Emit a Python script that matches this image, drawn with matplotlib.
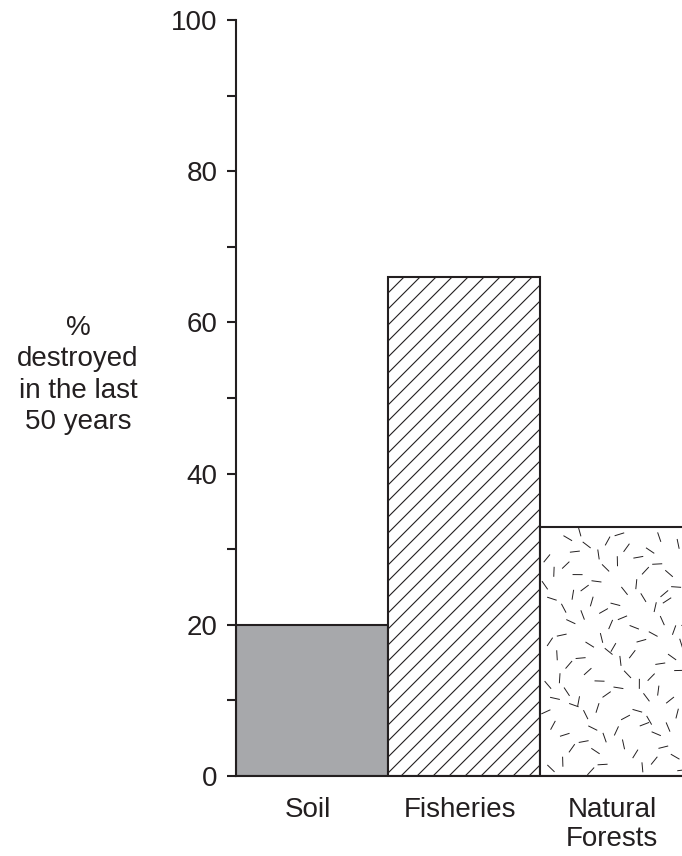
import numpy as np
import matplotlib
matplotlib.use("Agg")
import matplotlib.pyplot as plt
from matplotlib.collections import LineCollection

# data
categories = ["Soil", "Fisheries", "Natural\nForests"]
values = [20, 66, 33]
yticks = [0, 20, 40, 60, 80, 100]

INK = "#231f20"
plt.rcParams['font.family'] = ['Liberation Sans', 'DejaVu Sans']

fig = plt.figure(figsize=(6.82, 8.56), dpi=100)
ax = fig.add_axes([236/682, 80/856, 446/682, 756/856])

x = np.arange(len(categories))
fills = ["#a7a8ab", "white", "white"]
bars = ax.bar(x, values, width=1.0, color=fills, edgecolor=INK,
              linewidth=1.5, zorder=2)

ax.set_xlim(-0.5, 2.434)
ax.set_ylim(0, 100)

px_x = 1 / 152.0      # data units per pixel, x
px_y = 1 / 7.56       # data units per pixel, y

# diagonal hatching on the fisheries bar, drawn by hand for finer spacing
fb = bars[1]
x0, w, h = fb.get_x(), fb.get_width(), fb.get_height()
wp, hp = w / px_x, h / px_y
hatch = []
step = 16.0
for off in np.arange(-hp, wp + step, step):
    hatch.append([(x0 + off * px_x, 0), (x0 + (off + hp) * px_x, h)])
lc = LineCollection(hatch, colors=INK, linewidths=0.8, zorder=3)
ax.add_collection(lc)
lc.set_clip_path(fb)

# speckled texture for the forests bar (decoration only, deterministic)
g = 0.6180339887
segs = []
step = 18
k = 0
for row in range(int(33 / px_y / step) + 1):
    for col in range(int(152 / step) + 1):
        k += 1
        jx = ((k * g) % 1.0 - 0.5) * step * 0.9
        jy = ((k * g * g * 3.7) % 1.0 - 0.5) * step * 0.9
        cx = 1.5 + (col * step + step / 2 + jx) * px_x
        cy = (row * step + step / 2 + jy) * px_y
        ang = ((k * 0.7548776662) % 1.0) * np.pi
        half = 5.0
        dx = np.cos(ang) * half * px_x
        dy = np.sin(ang) * half * px_y
        if 1.5 + 4 * px_x < cx < 2.5 and 4 * px_y < cy < 33 - 4 * px_y:
            segs.append([(cx - dx, cy - dy), (cx + dx, cy + dy)])
ax.add_collection(LineCollection(segs, colors=INK, linewidths=0.7, zorder=3))

for side in ["top", "right"]:
    ax.spines[side].set_visible(False)
for side in ["left", "bottom"]:
    ax.spines[side].set_linewidth(1.5)
    ax.spines[side].set_color(INK)
    ax.spines[side].set_zorder(4)

ax.set_yticks(yticks)
ax.set_yticks(np.arange(10, 100, 20), minor=True)
ax.tick_params(axis="y", which="both", direction="out", length=6.5, width=1.5,
               colors=INK, labelsize=20, pad=7)
ax.set_xticks(x - 4 * px_x)
ax.set_xticklabels(categories, fontsize=20, color=INK, linespacing=1.15,
                   va="top")
ax.tick_params(axis="x", length=0, pad=15)

fig.text(78/682, 1 - 375/856, "%\ndestroyed\nin the last\n50 years",
         ha="center", va="center", fontsize=20, color=INK, linespacing=1.28)

fig.savefig("out.png", dpi=100)
